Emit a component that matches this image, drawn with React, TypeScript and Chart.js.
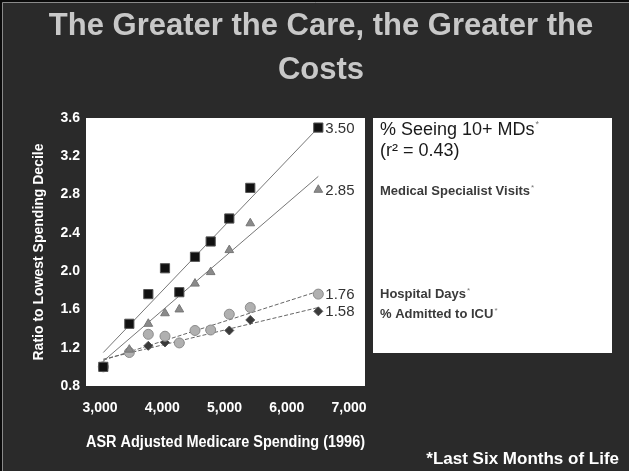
import { useEffect, useRef } from 'react';
import { Chart, registerables } from 'chart.js';

Chart.register(...registerables);

// ---- data ----
const spending = [3053, 3471, 3776, 4044, 4274, 4526, 4778, 5077, 5414, 6507];
const seeing10MDs = [1.0, 1.45, 1.76, 2.03, 1.78, 2.15, 2.31, 2.55, 2.87, 3.5];
const specialistVisits = [1.0, 1.18, 1.45, 1.56, 1.6, 1.87, 1.99, 2.22, 2.5, 2.85];
const hospitalDays = [1.0, 1.15, 1.34, 1.32, 1.25, 1.38, 1.385, 1.55, 1.62, 1.76];
const admittedICU = [1.0, 1.16, 1.22, 1.255, 1.255, 1.38, 1.38, 1.38, 1.49, 1.58];

const trendX = [3053, 6507];
const trendSeeing = [1.15, 3.5];
const trendSpecialist = [1.06, 2.99];
const trendHospital = [1.07, 1.79];
const trendICU = [1.08, 1.62];

const endLabels = ['3.50', '2.85', '1.76', '1.58'];
const xTickValues = [3000, 4000, 5000, 6000, 7000];
const yMin = 0.8;
const yMax = 3.6;
const yStep = 0.4;

const titleLines = ['The Greater the Care, the Greater the', 'Costs'];
const xTitle = 'ASR Adjusted Medicare Spending (1996)';
const yTitle = 'Ratio to Lowest Spending Decile';
const footnote = '*Last Six Months of Life';

const FONT = '"Liberation Sans", Arial, sans-serif';

const pts = (xs: number[], ys: number[]) => xs.map((x, i) => ({ x, y: ys[i] }));

export default function App() {
  const ref = useRef<HTMLCanvasElement | null>(null);

  useEffect(() => {
    document.body.style.margin = '0';
    const canvas = ref.current;
    if (!canvas) return;

    const deco = {
      id: 'deco',
      beforeDraw(chart: any) {
        const { ctx, chartArea } = chart;
        ctx.save();
        ctx.fillStyle = '#2a2a2a';
        ctx.fillRect(0, 0, 629, 471);
        ctx.fillStyle = '#0a0a0a';
        ctx.fillRect(0, 0, 629, 2);
        ctx.fillRect(0, 0, 2, 471);
        ctx.strokeStyle = '#8a8a8a';
        ctx.lineWidth = 1;
        ctx.beginPath();
        ctx.moveTo(2.5, 471);
        ctx.lineTo(2.5, 2.5);
        ctx.lineTo(629, 2.5);
        ctx.stroke();
        // plot area
        ctx.fillStyle = '#ffffff';
        ctx.fillRect(chartArea.left, chartArea.top, chartArea.right - chartArea.left, chartArea.bottom - chartArea.top);
        // legend panel
        ctx.fillRect(373, 118, 239, 235);
        ctx.restore();
      },
      afterDraw(chart: any) {
        const { ctx } = chart;
        ctx.save();
        // title
        ctx.fillStyle = '#c8c8c8';
        ctx.textAlign = 'center';
        ctx.textBaseline = 'middle';
        ctx.font = `bold 31px ${FONT}`;
        ctx.fillText(titleLines[0], 321, 26);
        ctx.fillText(titleLines[1], 321, 70);

        // legend text
        ctx.textAlign = 'left';
        ctx.fillStyle = '#1a1a1a';
        ctx.font = `18px ${FONT}`;
        const t1 = '% Seeing 10+ MDs';
        ctx.fillText(t1, 380, 130);
        const w1 = ctx.measureText(t1).width;
        ctx.font = `9px ${FONT}`;
        ctx.fillStyle = '#777';
        ctx.fillText('*', 381 + w1, 125);
        ctx.fillStyle = '#1a1a1a';
        ctx.font = `18px ${FONT}`;
        ctx.fillText('(r² = 0.43)', 380, 151);

        const smallItems: [string, number][] = [
          ['Medical Specialist Visits', 191],
          ['Hospital Days', 294],
          ['% Admitted to ICU', 314],
        ];
        for (const [txt, y] of smallItems) {
          ctx.font = `bold 13px ${FONT}`;
          ctx.fillStyle = '#3a3a3a';
          ctx.fillText(txt, 380, y);
          const w = ctx.measureText(txt).width;
          ctx.font = `8px ${FONT}`;
          ctx.fillStyle = '#777';
          ctx.fillText('*', 381 + w, y - 3);
        }

        // end value labels
        ctx.font = `15px ${FONT}`;
        ctx.fillStyle = '#333';
        for (let d = 0; d < 4; d++) {
          const meta = chart.getDatasetMeta(d);
          const last = meta.data[meta.data.length - 1];
          ctx.fillText(endLabels[d], last.x + 7, last.y + 1);
        }

        // footnote
        ctx.fillStyle = '#ffffff';
        ctx.font = `bold 17px ${FONT}`;
        ctx.textAlign = 'right';
        ctx.fillText(footnote, 619, 459);
        ctx.restore();
      },
    };

    const chart = new Chart(canvas, {
      type: 'scatter',
      data: {
        datasets: [
          {
            data: pts(spending, seeing10MDs),
            pointStyle: 'rect',
            pointRadius: 6.5,
            backgroundColor: '#111',
            borderColor: '#555',
            borderWidth: 1,
          },
          {
            data: pts(spending, specialistVisits),
            pointStyle: 'triangle',
            pointRadius: 5,
            backgroundColor: '#8a8a8a',
            borderColor: '#777',
            borderWidth: 1,
          },
          {
            data: pts(spending, hospitalDays),
            pointStyle: 'circle',
            pointRadius: 5,
            backgroundColor: '#b0b0b0',
            borderColor: '#8c8c8c',
            borderWidth: 1,
          },
          {
            data: pts(spending, admittedICU),
            pointStyle: 'rectRot',
            pointRadius: 4.5,
            backgroundColor: '#3a3a3a',
            borderColor: '#555',
            borderWidth: 1,
          },
          {
            data: pts(trendX, trendSeeing),
            showLine: true,
            pointRadius: 0,
            borderColor: '#777',
            borderWidth: 1,
          },
          {
            data: pts(trendX, trendSpecialist),
            showLine: true,
            pointRadius: 0,
            borderColor: '#777',
            borderWidth: 1,
          },
          {
            data: pts(trendX, trendHospital),
            showLine: true,
            pointRadius: 0,
            borderColor: '#666',
            borderWidth: 1,
            borderDash: [4, 2],
          },
          {
            data: pts(trendX, trendICU),
            showLine: true,
            pointRadius: 0,
            borderColor: '#666',
            borderWidth: 1,
            borderDash: [4, 2],
          },
        ],
      },
      options: {
        responsive: false,
        animation: false,
        layout: { padding: { left: 0, top: 118, right: 264, bottom: 0 } },
        plugins: {
          legend: { display: false },
          tooltip: { enabled: false },
          title: { display: false },
        },
        scales: {
          x: {
            type: 'linear',
            min: 2775,
            max: 7257,
            grid: { display: false, drawTicks: false, tickLength: 0 },
            border: { display: false },
            afterBuildTicks: (scale: any) => {
              scale.ticks = xTickValues.map((v) => ({ value: v }));
            },
            afterFit: (scale: any) => {
              scale.height = 85;
            },
            ticks: {
              color: '#ffffff',
              font: { family: FONT, size: 14, weight: 'bold' },
              padding: 14,
              maxRotation: 0,
              callback: (v: any) => Number(v).toLocaleString('en-US'),
            },
            title: {
              display: true,
              text: xTitle,
              color: '#ffffff',
              font: { family: FONT, size: 16, weight: 'bold' },
              padding: { top: 0, bottom: 19 },
            },
          },
          y: {
            type: 'linear',
            min: yMin,
            max: yMax,
            grid: { display: false, drawTicks: false, tickLength: 0 },
            border: { display: false },
            afterFit: (scale: any) => {
              scale.width = 86;
            },
            ticks: {
              stepSize: yStep,
              color: '#ffffff',
              font: { family: FONT, size: 14, weight: 'bold' },
              padding: 6,
              callback: (v: any) => Number(v).toFixed(1),
            },
            title: {
              display: true,
              text: yTitle,
              color: '#ffffff',
              font: { family: FONT, size: 14, weight: 'bold' },
              padding: { top: 31, bottom: 0 },
            },
          },
        },
      },
      plugins: [deco],
    } as any);

    return () => chart.destroy();
  }, []);

  return <canvas ref={ref} width={629} height={471} style={{ display: 'block' }} />;
}
